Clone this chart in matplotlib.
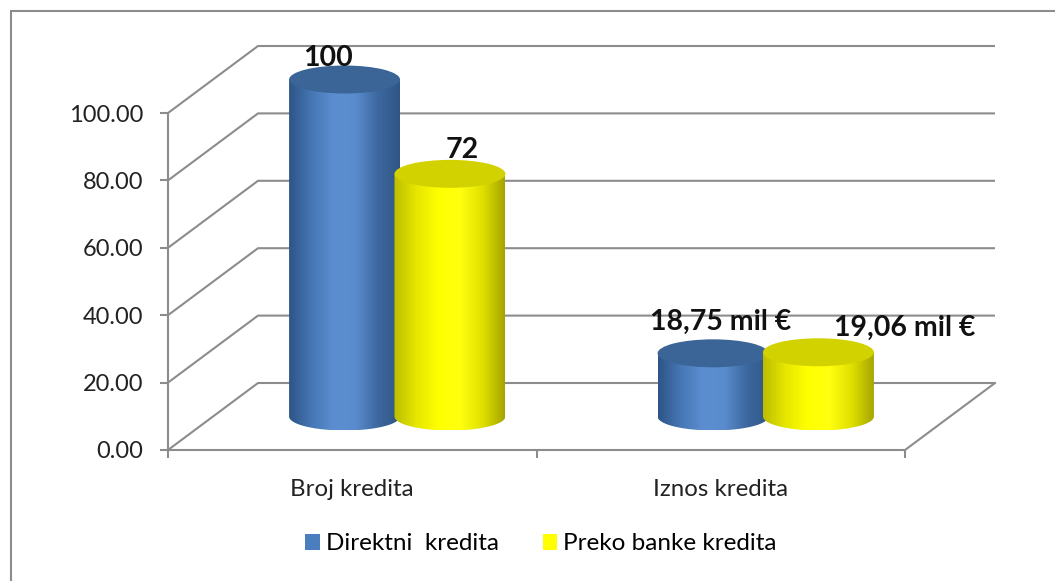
import numpy as np
import matplotlib.pyplot as plt
from matplotlib.path import Path
from matplotlib.patches import PathPatch, Ellipse, Rectangle, Patch
from matplotlib.colors import LinearSegmentedColormap

categories = ['Broj kredita', 'Iznos kredita']
series_names = ['Direktni  kredita', 'Preko banke kredita']
direktni = [100, 18.75]
preko = [72, 19.06]
direktni_labels = ['100', '18,75 mil €']
preko_labels = ['72', '19,06 mil €']
yticks = [0, 20, 40, 60, 80, 100]

plt.rcParams['font.family'] = ['Lato', 'DejaVu Sans']

W, H = 1055, 581
fig = plt.figure(figsize=(W / 100, H / 100), dpi=100)
# front plane of the 3d box
ax = fig.add_axes([168 / W, (H - 450) / H, (905 - 168) / W, (450 - 113) / H])
ax.set_xlim(0, 2)
ax.set_ylim(0, 100)

grid_c = '#8c8c8c'
DX, DY = 0.2442, 19.88   # depth of the box in data units
CW, EH = 0.301, 8.3      # cylinder width, ellipse height

# back wall + side wall lines
for v in yticks:
    ax.plot([0, DX, 2 + DX], [v, v + DY, v + DY], color=grid_c, lw=1.5,
            clip_on=False, zorder=1, solid_capstyle='butt')
ax.plot([2, 2 + DX], [0, DY], color=grid_c, lw=1.5, clip_on=False, zorder=1)

for s in ['top', 'right']:
    ax.spines[s].set_visible(False)
for s in ['left', 'bottom']:
    ax.spines[s].set_color(grid_c)
    ax.spines[s].set_linewidth(1.5)
ax.set_facecolor('none')

ax.set_yticks(yticks)
ax.set_yticklabels([f'{v:.2f}' for v in yticks])
ax.tick_params(axis='y', length=6, width=1.5, color=grid_c, labelsize=17,
               pad=12, labelcolor='#222222')
ax.set_xticks([0, 1, 2])
ax.set_xticklabels([])
ax.tick_params(axis='x', which='major', length=6, width=1.5, color=grid_c)
ax.set_xticks([0.5, 1.5], minor=True)
ax.set_xticklabels(categories, minor=True)
ax.tick_params(axis='x', which='minor', length=0, pad=21, labelsize=17.3,
               labelcolor='#222222')

blue_cmap = LinearSegmentedColormap.from_list(
    'b', ['#2d5586', '#4676b4', '#5b8ed0', '#5a8ccd', '#3d68a0', '#2f5685'])
yellow_cmap = LinearSegmentedColormap.from_list(
    'y', ['#bdbd00', '#e6e600', '#ffff00', '#ffff10', '#e0e000', '#a5a500'])


def cylinder(xc, val, cmap, top_c, z):
    y0 = DY / 2
    y1 = val + DY / 2
    xl, xr = xc - CW / 2, xc + CW / 2
    th = np.linspace(np.pi, 2 * np.pi, 80)
    verts = [(xl, y1)] + list(zip(xc + CW / 2 * np.cos(th),
                                  y0 + EH / 2 * np.sin(th))) + [(xr, y1), (xl, y1)]
    clip = PathPatch(Path(verts), transform=ax.transData)
    grad = np.linspace(0, 1, 256).reshape(1, -1)
    im = ax.imshow(grad, cmap=cmap, extent=[xl, xr, y0 - EH / 2, y1],
                   aspect='auto', origin='lower', zorder=z,
                   interpolation='bilinear')
    im.set_clip_box(fig.bbox)
    im.set_clip_path(clip)
    ax.add_patch(Ellipse((xc, y1), CW, EH, facecolor=top_c, edgecolor='none',
                         zorder=z + 0.1, clip_on=False))


centers = np.arange(len(categories)) + 0.5 + DX / 2
off = 0.143
for i in range(len(categories)):
    cylinder(centers[i] - off, direktni[i], blue_cmap, '#3b6597', 3 + i)
    cylinder(centers[i] + off, preko[i], yellow_cmap, '#d2d200', 3.5 + i)

# value labels
lab_dx = [[-0.045, 0.02], [0.033, 0.235]]
lab_dy = [[6.4, 9.3], [7.1, 7.2]]
for i in range(len(categories)):
    ax.text(centers[i] - off + lab_dx[0][i], direktni[i] + DY / 2 + lab_dy[0][i],
            direktni_labels[i], ha='center', va='center', fontsize=20.5,
            fontweight='bold', color='#111111', zorder=10)
    ax.text(centers[i] + off + lab_dx[1][i], preko[i] + DY / 2 + lab_dy[1][i],
            preko_labels[i], ha='center', va='center', fontsize=20.5,
            fontweight='bold', color='#111111', zorder=10)

ax.set_xlim(0, 2)
ax.set_ylim(0, 100)

handles = [Patch(facecolor='#4a7ebf'), Patch(facecolor='#ffff00')]
fig.legend(handles, series_names, loc='center', bbox_to_anchor=(541 / W, 1 - 544 / H),
           ncol=2, frameon=False, fontsize=17.5, handlelength=0.6, handleheight=0.6,
           handletextpad=0.25, columnspacing=1.8, borderpad=0, borderaxespad=0)

fig.add_artist(Rectangle((11 / W, -0.1), 2, (H - 11) / H + 0.1,
                         transform=fig.transFigure, fill=False,
                         edgecolor=grid_c, lw=1.5))

fig.savefig('out.png', dpi=100)
